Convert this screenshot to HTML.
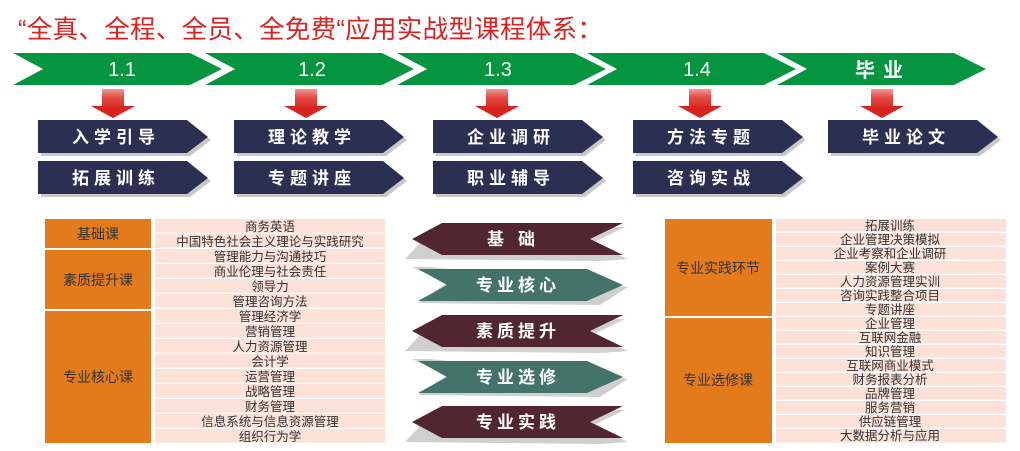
<!DOCTYPE html>
<html><head><meta charset="utf-8"><style>
html,body{margin:0;padding:0;background:#fff;}
body{width:1020px;height:451px;overflow:hidden;position:relative;font-family:"Liberation Sans","Noto Sans CJK SC",sans-serif;}
.t{position:absolute;left:18px;top:9px;font-size:25.5px;color:#d8231f;letter-spacing:0.3px;white-space:nowrap;}
svg text{font-family:"Liberation Sans","Noto Sans CJK SC",sans-serif;}
.cal{font-family:"Noto Serif CJK SC","Liberation Serif",serif;font-weight:bold;}
</style></head><body>
<div class="t">“全真、全程、全员、全免费“应用实战型课程体系：</div>
<svg width="1020" height="451" style="position:absolute;left:0;top:0">
<defs>
<linearGradient id="st" x1="0" y1="0" x2="0" y2="1">
<stop offset="0" stop-color="#f29a96"/><stop offset="0.4" stop-color="#e14a42"/><stop offset="1" stop-color="#d8231f"/>
</linearGradient>
</defs>
<g fill="#05943f">
<polygon points="13,53 190,53 222,69 190,85 13,85 43,69"/>
<polygon points="205,53 382,53 414,69 382,85 205,85 235,69"/>
<polygon points="397,53 574,53 606,69 574,85 397,85 427,69"/>
<polygon points="587,53 764,53 796,69 764,85 587,85 617,69"/>
<polygon points="777,53 954,53 986,69 954,85 777,85 807,69"/>
</g>
<g fill="#fff" font-size="20" text-anchor="middle">
<text x="122" y="76">1.1</text><text x="312" y="76">1.2</text><text x="498" y="76">1.3</text><text x="697" y="76">1.4</text>
<text x="883" y="77" font-weight="bold" letter-spacing="8">毕业</text>
</g>
<g>
<g transform="translate(113,0)"><rect x="-11" y="89" width="22" height="22" fill="url(#st)"/><polygon points="-22,106 22,106 0,118" fill="#d8231f"/></g>
<g transform="translate(306,0)"><rect x="-11" y="89" width="22" height="22" fill="url(#st)"/><polygon points="-22,106 22,106 0,118" fill="#d8231f"/></g>
<g transform="translate(497,0)"><rect x="-11" y="89" width="22" height="22" fill="url(#st)"/><polygon points="-22,106 22,106 0,118" fill="#d8231f"/></g>
<g transform="translate(700,0)"><rect x="-11" y="89" width="22" height="22" fill="url(#st)"/><polygon points="-22,106 22,106 0,118" fill="#d8231f"/></g>
<g transform="translate(882,0)"><rect x="-11" y="89" width="22" height="22" fill="url(#st)"/><polygon points="-22,106 22,106 0,118" fill="#d8231f"/></g>
</g>
<g>
<g transform="translate(38,120)"><polygon points="3,3 152,3 173,20 152,36 3,36" fill="#c8c8c8"/><polygon points="0,0 149,0 170,17 149,33 0,33" fill="#2b3052"/></g>
<g transform="translate(38,161)"><polygon points="3,3 152,3 173,20 152,36 3,36" fill="#c8c8c8"/><polygon points="0,0 149,0 170,17 149,33 0,33" fill="#2b3052"/></g>
<g transform="translate(234,120)"><polygon points="3,3 152,3 173,20 152,36 3,36" fill="#c8c8c8"/><polygon points="0,0 149,0 170,17 149,33 0,33" fill="#2b3052"/></g>
<g transform="translate(234,161)"><polygon points="3,3 152,3 173,20 152,36 3,36" fill="#c8c8c8"/><polygon points="0,0 149,0 170,17 149,33 0,33" fill="#2b3052"/></g>
<g transform="translate(433,120)"><polygon points="3,3 152,3 173,20 152,36 3,36" fill="#c8c8c8"/><polygon points="0,0 149,0 170,17 149,33 0,33" fill="#2b3052"/></g>
<g transform="translate(433,161)"><polygon points="3,3 152,3 173,20 152,36 3,36" fill="#c8c8c8"/><polygon points="0,0 149,0 170,17 149,33 0,33" fill="#2b3052"/></g>
<g transform="translate(633,120)"><polygon points="3,3 152,3 173,20 152,36 3,36" fill="#c8c8c8"/><polygon points="0,0 149,0 170,17 149,33 0,33" fill="#2b3052"/></g>
<g transform="translate(633,161)"><polygon points="3,3 152,3 173,20 152,36 3,36" fill="#c8c8c8"/><polygon points="0,0 149,0 170,17 149,33 0,33" fill="#2b3052"/></g>
<g transform="translate(828,120)"><polygon points="3,3 152,3 173,20 152,36 3,36" fill="#c8c8c8"/><polygon points="0,0 149,0 170,17 149,33 0,33" fill="#2b3052"/></g>
</g>
<g fill="#fff" font-size="17" text-anchor="middle" class="cal" letter-spacing="5">
<text x="116" y="143">入学引导</text><text x="116" y="184">拓展训练</text>
<text x="312" y="143">理论教学</text><text x="312" y="184">专题讲座</text>
<text x="511" y="143">企业调研</text><text x="511" y="184">职业辅导</text>
<text x="711" y="143">方法专题</text><text x="711" y="184">咨询实战</text>
<text x="906" y="143">毕业论文</text>
</g>
<g>
<g transform="translate(0,223)"><polygon points="405,36 435,4 625,4 592,20 628,36 600,38" fill="#cfcfcf"/><polygon points="412,16 442,0 623,0 590,16 623,32 442,32" fill="#52262e"/></g>
<g transform="translate(0,269)"><polygon points="412,-2 447,14 418,34 600,36 628,18 430,-2" fill="#cfcfcf"/><polygon points="418,0 587,0 623,16 587,32 418,32 447,16" fill="#44736b"/></g>
<g transform="translate(0,315)"><polygon points="405,36 435,4 625,4 592,20 628,36 600,38" fill="#cfcfcf"/><polygon points="412,16 442,0 623,0 590,16 623,32 442,32" fill="#52262e"/></g>
<g transform="translate(0,361)"><polygon points="412,-2 447,14 418,34 600,36 628,18 430,-2" fill="#cfcfcf"/><polygon points="418,0 587,0 623,16 587,32 418,32 447,16" fill="#44736b"/></g>
<g transform="translate(0,406)"><polygon points="405,36 435,4 625,4 592,20 628,36 600,38" fill="#cfcfcf"/><polygon points="412,16 442,0 623,0 590,16 623,32 442,32" fill="#52262e"/></g>
</g>
<g fill="#fff" font-size="17" text-anchor="middle" class="cal" letter-spacing="4">
<text x="518" y="245" letter-spacing="14">基础</text>
<text x="518" y="291">专业核心</text>
<text x="518" y="337">素质提升</text>
<text x="518" y="383">专业选修</text>
<text x="518" y="428">专业实践</text>
</g>
<g fill="#e37a1c">
<rect x="45" y="219" width="106" height="29"/>
<rect x="45" y="250" width="106" height="59"/>
<rect x="45" y="311" width="106" height="132"/>
</g>
<g fill="#333" font-size="14" text-anchor="middle">
<text x="98" y="239">基础课</text><text x="98" y="285">素质提升课</text><text x="98" y="382">专业核心课</text>
</g>
<g fill="#fbe1d7">
<rect x="155" y="219" width="230" height="13.7"/><rect x="155" y="234" width="230" height="13.7"/>
<rect x="155" y="249" width="230" height="13.7"/><rect x="155" y="264" width="230" height="13.7"/>
<rect x="155" y="279" width="230" height="13.7"/><rect x="155" y="294" width="230" height="13.7"/>
<rect x="155" y="309" width="230" height="13.7"/><rect x="155" y="324" width="230" height="13.7"/>
<rect x="155" y="339" width="230" height="13.7"/><rect x="155" y="354" width="230" height="13.7"/>
<rect x="155" y="369" width="230" height="13.7"/><rect x="155" y="384" width="230" height="13.7"/>
<rect x="155" y="399" width="230" height="13.7"/><rect x="155" y="414" width="230" height="13.7"/>
<rect x="155" y="429" width="230" height="13.7"/>
</g>
<g fill="#333" font-size="12.5" text-anchor="middle">
<text x="270" y="231">商务英语</text><text x="270" y="246">中国特色社会主义理论与实践研究</text>
<text x="270" y="261">管理能力与沟通技巧</text><text x="270" y="276">商业伦理与社会责任</text>
<text x="270" y="291">领导力</text><text x="270" y="306">管理咨询方法</text>
<text x="270" y="321">管理经济学</text><text x="270" y="336">营销管理</text>
<text x="270" y="351">人力资源管理</text><text x="270" y="366">会计学</text>
<text x="270" y="381">运营管理</text><text x="270" y="396">战略管理</text>
<text x="270" y="411">财务管理</text><text x="270" y="426">信息系统与信息资源管理</text>
<text x="270" y="441">组织行为学</text>
</g>
<g fill="#e37a1c">
<rect x="665" y="219" width="107" height="97"/>
<rect x="665" y="318" width="107" height="125"/>
</g>
<g fill="#333" font-size="14" text-anchor="middle">
<text x="718" y="273">专业实践环节</text><text x="718" y="385">专业选修课</text>
</g>
<g fill="#fbe1d7">
<rect x="776" y="219" width="230" height="12.6"/><rect x="776" y="233" width="230" height="12.6"/>
<rect x="776" y="247" width="230" height="12.6"/><rect x="776" y="261" width="230" height="12.6"/>
<rect x="776" y="275" width="230" height="12.6"/><rect x="776" y="289" width="230" height="12.6"/>
<rect x="776" y="303" width="230" height="12.6"/><rect x="776" y="317" width="230" height="12.6"/>
<rect x="776" y="331" width="230" height="12.6"/><rect x="776" y="345" width="230" height="12.6"/>
<rect x="776" y="359" width="230" height="12.6"/><rect x="776" y="373" width="230" height="12.6"/>
<rect x="776" y="387" width="230" height="12.6"/><rect x="776" y="401" width="230" height="12.6"/>
<rect x="776" y="415" width="230" height="12.6"/><rect x="776" y="429" width="230" height="13.6"/>
</g>
<g fill="#333" font-size="12.5" text-anchor="middle">
<text x="890" y="230">拓展训练</text><text x="890" y="244">企业管理决策模拟</text>
<text x="890" y="258">企业考察和企业调研</text><text x="890" y="272">案例大赛</text>
<text x="890" y="286">人力资源管理实训</text><text x="890" y="300">咨询实践整合项目</text>
<text x="890" y="314">专题讲座</text><text x="890" y="328">企业管理</text>
<text x="890" y="342">互联网金融</text><text x="890" y="356">知识管理</text>
<text x="890" y="370">互联网商业模式</text><text x="890" y="384">财务报表分析</text>
<text x="890" y="398">品牌管理</text><text x="890" y="412">服务营销</text>
<text x="890" y="426">供应链管理</text><text x="890" y="440">大数据分析与应用</text>
</g>
</svg>
</body></html>
